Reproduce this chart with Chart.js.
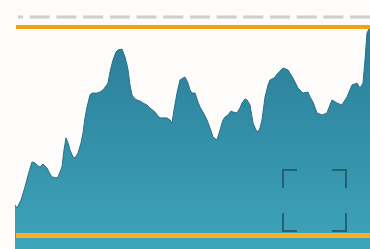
<!DOCTYPE html>
<html>
<head>
<meta charset="utf-8">
<script src="https://cdn.jsdelivr.net/npm/chart.js@4/dist/chart.umd.min.js"></script>
<style>
html,body{margin:0;padding:0;background:#fdfcfa;}
#wrap{width:370px;height:249px;}
</style>
</head>
<body>
<div id="wrap"><canvas id="c" width="370" height="249"></canvas></div>
<script>
// Day index of each reading
const days = [0,2,6,10,14,17,20,23,25,28,32,35,37,41,43,47,49,51,53,55,58,60,63,66,68,70,72,75,77,82,85,88,91,93,95,98,101,103,107,110,112,113,115,117,120,122,125,128,132,135,140,143,145,148,152,155,157,159,162,165,168,170,173,175,177,180,183,185,189,192,195,198,202,205,208,210,213,216,218,222,225,227,230,232,235,238,241,243,245,247,250,253,255,259,263,268,273,278,283,288,293,295,298,302,307,312,315,317,322,327,330,332,337,342,345,348,350,352,355];
// Series values (0 = lower band, 100 = upper band)
const values = [14.6,13.2,17.0,23.3,30.5,35.3,34.8,33.3,32.9,34.3,32.4,29.5,28.1,27.6,28.1,32.9,41.0,46.8,44.4,41.0,37.6,37.2,39.6,44.4,49.2,56.4,61.6,67.4,68.3,68.3,68.8,69.8,71.7,73.1,78.4,84.2,88.0,89.0,89.4,85.6,81.8,79.4,72.2,67.4,65.5,65.0,64.5,63.5,62.6,61.2,59.2,57.3,56.4,56.4,56.4,55.4,54.0,60.2,68.3,74.6,75.5,76.0,73.1,69.8,68.3,68.3,64.0,61.6,58.3,55.4,51.6,47.2,45.8,50.6,55.4,56.8,57.8,59.7,59.2,58.8,61.2,63.5,65.5,65.0,62.6,54.0,50.6,49.6,51.6,55.4,66.4,72.2,74.6,75.5,77.9,80.3,79.4,75.5,70.7,68.3,68.8,66.4,64.0,58.8,57.8,58.8,62.6,65.0,63.5,62.6,65.0,66.4,72.2,73.1,70.7,73.1,84.2,97.1,100.0];
// Band levels
const upperBand = 100;
const lowerBand = 0;
const guideLevel = 104.8;
// Focus bracket corners (day, value)
const bracketDays = [268, 331];
const bracketValues = [2.2, 31.4];
const bracketArm = [14, 8.6];

const series = days.map((d, i) => ({x: d, y: values[i]}));
const hline = (v, x0, x1) => [{x: x0, y: v}, {x: x1, y: v}];

const [bx0, bx1] = bracketDays;
const [by0, by1] = bracketValues;
const [ax, ay] = bracketArm;
const bracket = [
  {x: bx0, y: by1 - ay}, {x: bx0, y: by1}, {x: bx0 + ax, y: by1}, {x: null, y: null},
  {x: bx1 - ax, y: by1}, {x: bx1, y: by1}, {x: bx1, y: by1 - ay}, {x: null, y: null},
  {x: bx0, y: by0 + ay}, {x: bx0, y: by0}, {x: bx0 + ax, y: by0}, {x: null, y: null},
  {x: bx1 - ax, y: by0}, {x: bx1, y: by0}, {x: bx1, y: by0 + ay}
].map(p => p.x === null ? {x: bx0, y: null} : p);

function grad(ctx) {
  const ca = ctx.chart.chartArea;
  if (!ca) return '#3390a8';
  const g = ctx.chart.ctx.createLinearGradient(0, ca.top, 0, ca.bottom);
  g.addColorStop(0, '#2a7690');
  g.addColorStop(0.45, '#318ba4');
  g.addColorStop(1, '#3da4ba');
  return g;
}

new Chart(document.getElementById('c'), {
  type: 'line',
  data: {
    datasets: [
      {data: series, fill: 'start', backgroundColor: grad, borderColor: '#2a6f86', borderWidth: 1, pointRadius: 0, tension: 0, order: 10},
      {data: hline(upperBand, 1, 355), borderColor: '#f3a20a', borderWidth: 4, pointRadius: 0, fill: false, order: 1},
      {data: hline(lowerBand, 1, 355), borderColor: '#f6b12a', borderWidth: 5, pointRadius: 0, fill: false, order: 1},
      {data: hline(guideLevel, 3, 355), borderColor: 'rgba(150,150,150,0.45)', borderWidth: 3, borderDash: [20, 6.7], borderDashOffset: 15, pointRadius: 0, fill: false, order: 1},
      {data: bracket, borderColor: 'rgba(32,84,98,0.8)', borderWidth: 2, pointRadius: 0, fill: false, spanGaps: false, order: 1}
    ]
  },
  options: {
    responsive: false,
    animation: false,
    devicePixelRatio: 1,
    layout: {padding: 0},
    plugins: {legend: {display: false}, tooltip: {enabled: false}},
    scales: {
      x: {type: 'linear', min: -15, max: 355, display: false},
      y: {type: 'linear', min: -6.47, max: 112.95, display: false}
    }
  }
});
</script>
</body>
</html>
